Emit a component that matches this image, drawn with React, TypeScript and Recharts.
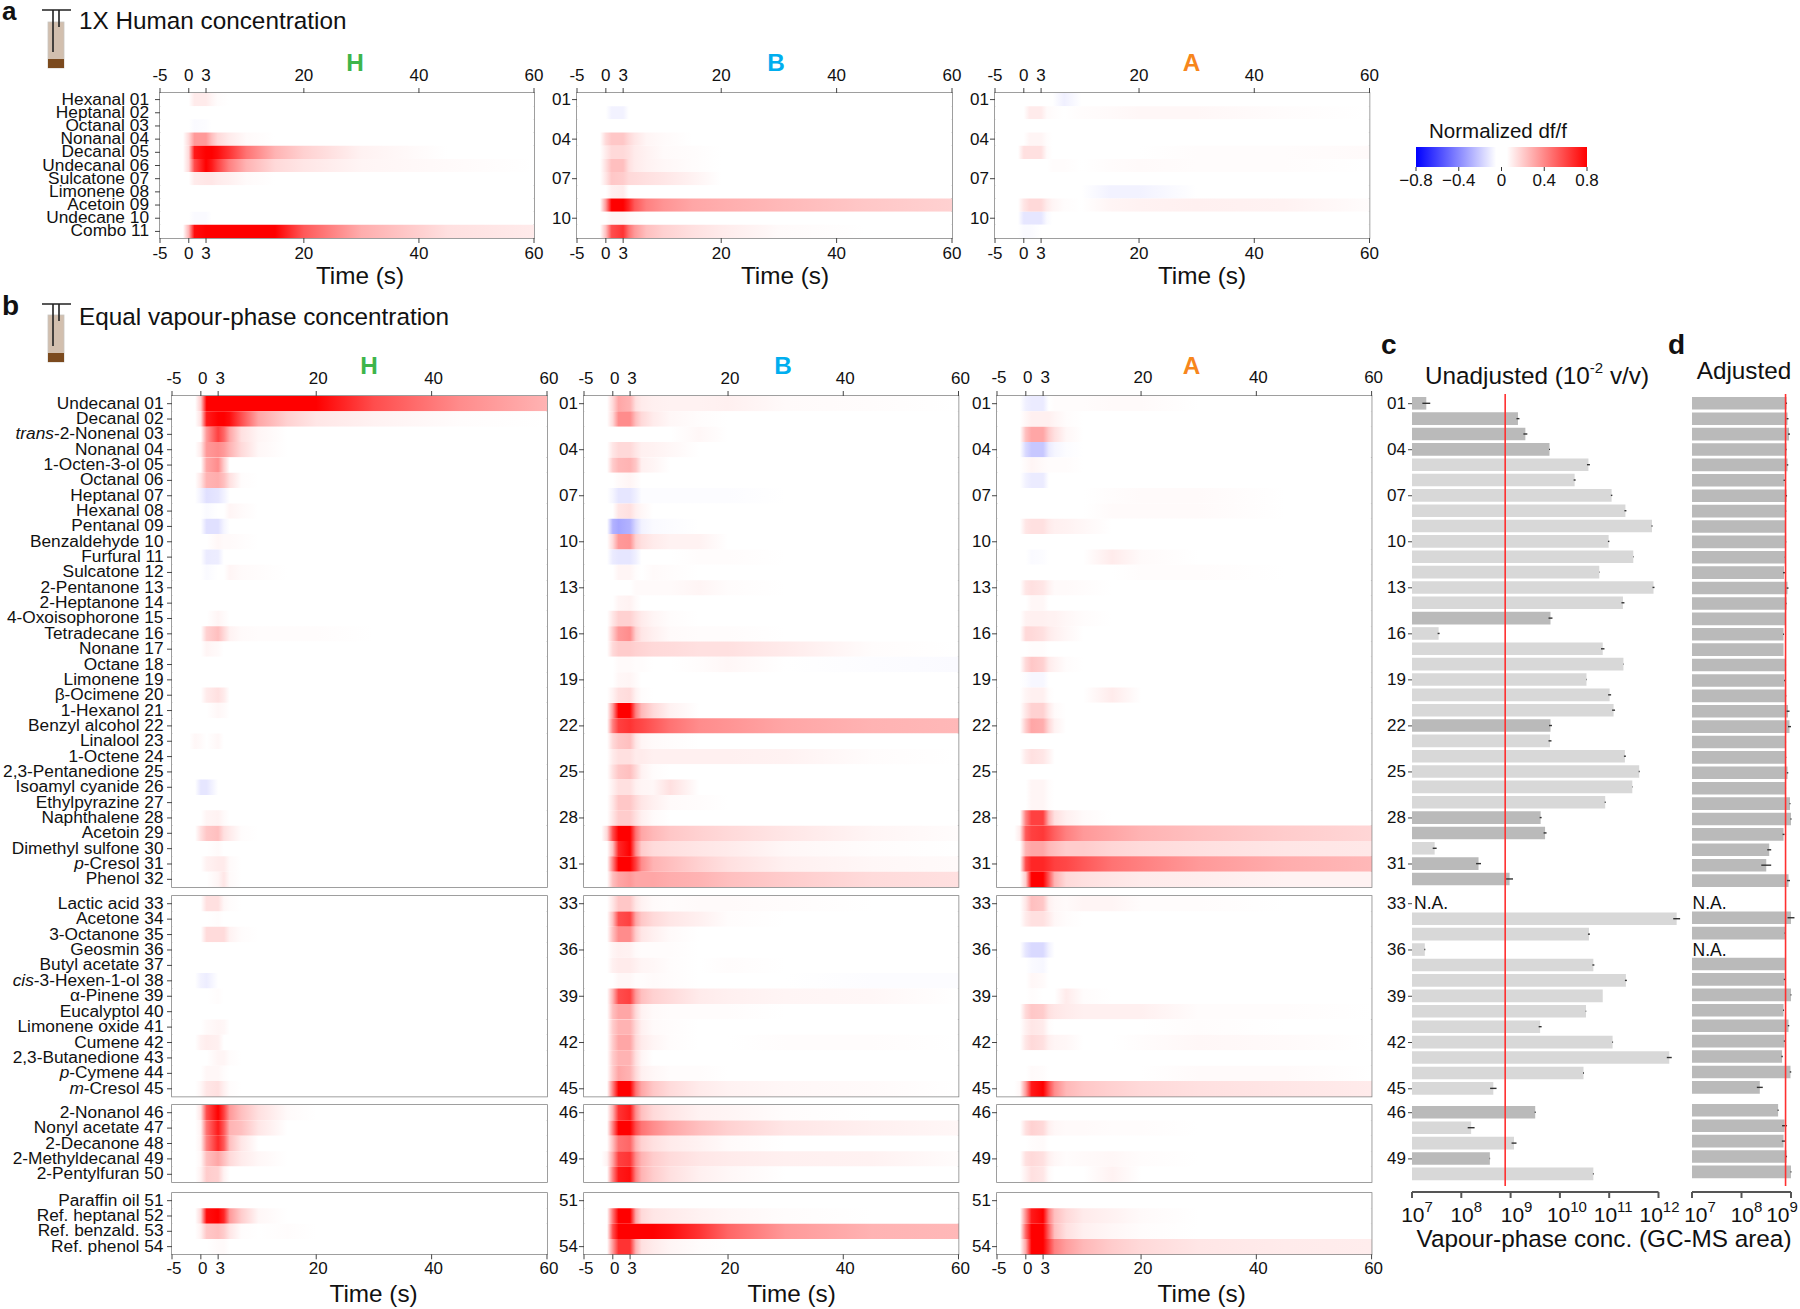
import { BarChart, Bar, XAxis, YAxis, Cell, ReferenceArea, ReferenceLine, ErrorBar } from "recharts";

const FONT = '"Liberation Sans", Arial, sans-serif';

// time points of the heatmap values (s); a row may stop early, the rest is 0
const timeKnots = [-1, 0, 1, 3, 4, 5, 7, 10, 15, 20, 30, 45, 60];
const timeTicks = [-5, 0, 3, 20, 40, 60];
const timeSpan = [-5, 60];

const aLabels = ["Hexanal 01", "Heptanal 02", "Octanal 03", "Nonanal 04", "Decanal 05", "Undecanal 06", "Sulcatone 07", "Limonene 08", "Acetoin 09", "Undecane 10", "Combo 11"];
const g1Labels = ["Undecanal 01", "Decanal 02", "trans-2-Nonenal 03", "Nonanal 04", "1-Octen-3-ol 05", "Octanal 06", "Heptanal 07", "Hexanal 08", "Pentanal 09", "Benzaldehyde 10", "Furfural 11", "Sulcatone 12", "2-Pentanone 13", "2-Heptanone 14", "4-Oxoisophorone 15", "Tetradecane 16", "Nonane 17", "Octane 18", "Limonene 19", "β-Ocimene 20", "1-Hexanol 21", "Benzyl alcohol 22", "Linalool 23", "1-Octene 24", "2,3-Pentanedione 25", "Isoamyl cyanide 26", "Ethylpyrazine 27", "Naphthalene 28", "Acetoin 29", "Dimethyl sulfone 30", "p-Cresol 31", "Phenol 32"];
const g2Labels = ["Lactic acid 33", "Acetone 34", "3-Octanone 35", "Geosmin 36", "Butyl acetate 37", "cis-3-Hexen-1-ol 38", "α-Pinene 39", "Eucalyptol 40", "Limonene oxide 41", "Cumene 42", "2,3-Butanedione 43", "p-Cymene 44", "m-Cresol 45"];
const g3Labels = ["2-Nonanol 46", "Nonyl acetate 47", "2-Decanone 48", "2-Methyldecanal 49", "2-Pentylfuran 50"];
const g4Labels = ["Paraffin oil 51", "Ref. heptanal 52", "Ref. benzald. 53", "Ref. phenol 54"];

// normalized df/f in percent of full scale (100 = 0.8)
const aH = [[0,0,8,8,4,1],[],[0,0,-2,-1],[0,15,40,40,25,15,8,2],[0,15,90,100,100,95,80,55,30,18,5],[0,15,70,100,90,75,50,30,15,10,4,2],[0,0,8,10,10,8,6,2],[],[],[0,0,-2,-2],[0,30,95,100,100,100,100,100,100,65,32,12,8]];
const aB = [[],[0,0,-5,-5],[],[0,15,22,22,15,10,4,2],[0,8,15,15,12,8,5,2,1],[0,12,25,25,12,8,5,3,1],[0,10,22,20,15,14,12,10,5],[0,0,6,8],[0,40,100,100,85,65,50,42,35,32,28,22,18],[0,0,4,4,2,1],[0,25,70,80,55,40,25,18,12,8,2]];
const aA = [[0,0,0,0,0,0,-6],[0,0,8,8,2,1,0,1,2,3,3,1],[],[0,0,4,4,1],[0,12,12,12,2,0,0,0,0,0,1,1,2],[0,0,0,0,0,1,1,0,1,2,1,1],[],[0,0,0,0,0,0,0,0,-5,-5],[0,10,15,15,8,4,1,0,4,5,6,5,1],[0,-10,-10,-10,-2],[0,-2,-2]];

const g1H = [[0,20,100,100,100,100,100,100,100,100,70,45,30],[0,12,90,100,100,95,70,35,18,10,5,1],[0,0,40,75,60,35,12,4],[0,8,40,45,40,30,15,3],[0,0,35,45,20],[0,10,30,32,25,12,1],[0,-5,-12,-10,-5],[0,0,-2,0,0,4,2],[0,0,-12,-12,-4],[0,0,0,3,2,2,1],[0,0,-8,-7],[0,0,-2,0,0,4,2,1],[],[],[0,0,0,4,2],[0,0,18,25,15,5,2,1,1,1],[0,0,4,2],[],[],[0,0,8,12,8],[0,0,0,3,2],[],[3,2,0,3],[],[],[0,-10,-10],[],[0,0,4,5,2],[0,12,22,25,12,8,1],[0,0,0,2],[0,0,5,8,8,2],[0,0,0,4,10,2]];
const g2H = [[0,0,12,12,3,1],[0,0,0,1],[0,0,14,14,14,5,1],[],[],[0,-5,-7],[0,0,0,1],[],[0,0,2,4,3],[0,5,7,6],[0,0,0,4,4,1],[0,0,3,3,1],[0,3,10,12,6,1]];
const g3H = [[0,10,70,100,75,40,25,12,2],[0,5,55,90,65,30,25,10],[0,5,50,85,65,25,10],[0,3,25,35,25,15,8,3],[0,5,20,18,5]];
const g4H = [[],[0,15,95,100,85,40,20,3],[0,5,22,25,20,10,1,0,1],[0,0,0,2,2]];

const g1B = [[0,15,35,30,12,8,6,5,5,6,2,1],[0,15,45,45,25,15,8,3,1],[0,0,0,0,0,0,0,0,3],[0,10,15,15,10,6,5,3],[0,20,28,30,22,6,4],[0,0,2,4,2],[0,-4,-10,-10,-6,-1,-1,-1,-1,-1],[0,0,10,12,6,3],[0,-30,-35,-30,-15,-5,-2,-1],[0,15,40,42,18,12,8,5,5],[0,-8,-10,-10,-6,0,0,0,1,1],[0,0,4,4,1,0,2,1],[0,0,0,0,2,2,2,2,4,1],[0,0,4,5,2],[0,10,18,18,12,8,4,1],[0,20,40,45,18,10,6,2,1,1],[0,15,20,20,18,17,15,14,12,12,8,1],[0,0,2,2,1,1,0,0,1,3,0,-1,-2],[0,0,3,4,2],[0,5,12,14,5,1],[0,40,100,100,50,28,15,5],[0,50,75,80,75,72,65,55,45,42,35,30,28],[0,15,22,25,10,4,2,1],[0,8,12,12,8,8,6,6,6,6,5,1],[0,12,22,25,15,5,1],[0,6,12,12,6,4,3,12],[0,10,22,22,15,10,6,2,1],[0,10,20,20,12,6,2],[15,70,100,100,55,35,28,22,18,15,10,4,1],[0,25,85,100,45,20,14,12,10,8,3,1],[0,50,100,100,75,45,30,25,18,12,6,3,2],[0,25,35,40,35,35,35,32,30,25,20,14,12]];
const g2B = [[0,10,22,22,10,5,2,1,2,2,1],[0,25,70,75,35,22,15,10,6,1],[0,25,45,45,20,10,6,2],[0,4,6,5,2,1,1,1],[0,6,8,8,6,4,3,1,0,1],[0,0,3,3,1,1,2,1,0,0,0,-1,-1],[0,30,70,75,40,25,18,14,8,6,4,3],[0,25,35,35,15,5,2,1,1,1],[0,20,30,30,15,6,2,1],[0,20,35,35,15,8,4,1,0,0,1,1],[0,20,30,30,12,4],[0,20,35,30,15,6,3,1,1],[0,50,100,100,55,35,22,14,8,5,3,2]];
const g3B = [[0,30,80,90,45,25,15,10,5,4,1],[0,50,100,100,70,55,45,35,25,18,10,6,3],[0,25,55,60,30,18,12,8,5,2],[5,35,75,80,45,30,20,14,10,8,6,5,1],[0,50,90,95,50,30,20,12,6,3]];
const g4B = [[],[0,55,100,100,35,15,10,8,5,3,1],[0,70,100,100,100,100,100,95,80,60,40,30,28],[0,40,80,80,30,12,8,4,1]];

const g1A = [[0,-6,-8,-8,0,1,1,1,2,2],[0,3,6,6,6,4,1],[0,25,35,35,20,12,3],[0,-15,-22,-22,-8,-4,-1],[0,2,4,2,1,1,1],[0,-5,-8,-8],[0,0,0,0,0,0,0,0,1,2,2],[0,0,0,0,0,0,0,0,2,2,2],[0,10,12,12,8,6,5,3],[],[0,0,-2,-1,0,0,0,0,8,2],[0,0,0,0,0,0,0,0,0,1,1],[0,10,12,10,5,2,2,1],[0,0,3,3],[0,5,6,6,5,5,3,1],[0,15,15,12,8,6,3],[0,0,1,1],[0,15,22,18,8,5,1],[0,-1,-3,-3],[0,4,6,6,1,0,0,0,8],[0,10,18,18,8,2],[0,20,35,32,15,5],[],[0,8,12,10,5],[],[0,0,4,4,1],[0,0,4,4,1],[0,50,75,75,30,12,6,2],[8,65,75,78,70,62,50,40,35,30,25,20,16],[0,30,35,35,28,25,20,20,16,14,12,10,9],[0,70,85,85,80,75,72,65,55,50,40,32,28],[0,20,100,100,65,30,15,12,10,8,7,5,5]];
const g2A = [[0,10,25,22,6,3,2,4,4,1,1],[0,8,12,12,8,3,1],[],[0,-10,-15,-15,-5],[0,0,-2,-3],[0,0,3,2],[0,0,1,0,0,0,8,1],[0,15,22,20,12,10,8,6,6,6,1,1],[0,6,10,8,1,0,0,0,0,0,1],[0,10,15,12,6,4,3,0,0,1,3,2],[],[0,0,2,1,0,0,0,0,0,0,2,2],[3,40,90,100,70,45,28,22,18,15,12,10,8]];
const g3A = [[],[0,12,18,15,6,3,2,2,1,1],[0,0,1,2],[0,12,15,12,6,3,1,2,3,1],[0,6,12,10,2,0,0,0,5]];
const g4A = [[],[0,45,90,100,50,25,15,8,5,2],[0,60,100,100,60,25,12,6,3,1],[0,35,100,100,75,50,38,28,20,15,10,8,7]];

// GC-MS area as log10, rows 01..50
const unadjusted = [7.29,9.15,9.3,9.79,10.58,10.3,11.05,11.33,11.87,10.99,11.49,10.8,11.9,11.28,9.81,7.54,10.87,11.29,10.54,11.01,11.09,9.81,9.8,11.32,11.61,11.47,10.92,9.61,9.7,7.46,8.35,8.98,null,12.37,10.59,7.26,10.68,11.34,10.87,10.53,9.6,11.07,12.22,10.48,8.65,9.5,8.2,9.07,8.58,10.68];
const unadjustedErr = [0.08,0.03,0.04,0.01,0.03,0.02,0.015,0.02,0.01,0.015,0.005,0.005,0.02,0.03,0.04,0.02,0.035,0.005,0.005,0.03,0.03,0.03,0.03,0.02,0.01,0.005,0.01,0.02,0.03,0.04,0.05,0.07,0,0.07,0.02,0.01,0.02,0.02,0,0.005,0.03,0.01,0.05,0.01,0.065,0.01,0.07,0.05,0.005,0.01];
const adjusted = [8.91,8.93,8.96,8.91,8.93,8.87,8.91,8.9,8.89,8.9,8.88,8.86,8.93,8.91,8.89,8.85,8.85,8.89,8.87,8.9,8.94,8.97,8.89,8.9,8.93,8.89,8.98,9,8.85,8.56,8.5,8.95,null,9,8.88,null,8.9,8.87,9,8.85,8.95,8.87,8.82,8.99,8.37,8.74,8.87,8.85,8.91,9];
const adjustedErr = [0.01,0.02,0.02,0.005,0.015,0.02,0.01,0.005,0.005,0.005,0.005,0.02,0.02,0.005,0.005,0.01,0,0.01,0.01,0.005,0.03,0.03,0.01,0.005,0.015,0.01,0.01,0.01,0.02,0.04,0.1,0.03,0,0.07,0.01,0,0,0.015,0.01,0.01,0.015,0.015,0.015,0.015,0.06,0.01,0.05,0.035,0.01,0.01];
const darkRows = [1, 2, 3, 4, 15, 22, 28, 29, 31, 32, 46, 49];
const redLineAt = 8.89;
const unadjustedTicks = [7, 8, 9, 10, 11, 12];
const adjustedTicks = [7, 8, 9];
const unadjustedTickShift = [5, 5, 6, 7, 4, 1];
const adjustedTickShift = [8, 5, -9];

const legendTicks = [-0.8, -0.4, 0, 0.4, 0.8];
const legendStops = [-0.8, -0.05, 0.05, 0.8];
const legendValues = [-100, 0, 0, 100];

const paint = (p: number) => {
  const c = Math.round(255 * (1 - Math.abs(p) / 100));
  return p >= 0 ? `rgb(255,${c},${c})` : `rgb(${c},${c},255)`;
};

const TOP = 30;
const BOT = 30;
const RIGHT = 25;

const RowTick = ({ x, y, payload, named, gap }: any) => {
  const value: string = payload.value;
  let body = named ? value : value.slice(-2);
  const m = named ? value.match(/^(trans|cis|p|m)-/) : null;
  return (
    <text x={x + gap} y={named ? y - 1 : y} textAnchor="end" dominantBaseline="central" fontSize={named ? 17.3 : 17} fill="#111" fontFamily={FONT}>
      {m ? <tspan fontStyle="italic">{m[1]}</tspan> : null}
      {m ? body.slice(m[1].length) : body}
    </text>
  );
};

const TimeTick = ({ x, y, payload, dx, dy }: any) => (
  <text x={x + dx} y={y + dy} textAnchor="middle" dominantBaseline="central" fontSize={17} fill="#111" fontFamily={FONT}>
    {payload.value}
  </text>
);

const Heatmap = ({ id, labels, rows, left, right, top, bottom, showTop, showBottom, named, gap, tickDx, bottomDy = 8 }: any) => {
  const yW = named ? 170 : 35;
  const boxW = right - left;
  const boxH = bottom - top;
  const pitch = boxH / labels.length;
  const data = labels.map((label: string) => ({ label, span: timeSpan }));
  return (
    <div style={{ position: "absolute", left: left - yW, top: top - TOP }}>
      <BarChart
        width={yW + boxW + RIGHT}
        height={TOP + boxH + BOT}
        data={data}
        layout="vertical"
        barCategoryGap={0}
        barGap={0}
        margin={{ top: 0, right: RIGHT, bottom: 0, left: 0 }}
      >
        <defs>
          {rows.map((row: number[], r: number) => (
            <linearGradient key={r} id={`${id}-${r}`} x1="0" x2="1" y1="0" y2="0">
              <stop offset={3 / 65} stopColor="#fff" />
              {timeKnots.map((t, k) => (
                <stop key={t} offset={(t + 5) / 65} stopColor={paint(row[k] ?? 0)} />
              ))}
            </linearGradient>
          ))}
        </defs>
        <XAxis
          xAxisId="t"
          orientation="top"
          type="number"
          domain={timeSpan}
          allowDataOverflow
          ticks={timeTicks}
          interval={0}
          height={TOP}
          axisLine={false}
          tickSize={5}
          tickLine={showTop ? { stroke: "#444" } : false}
          tick={showTop ? (p: any) => <TimeTick {...p} dx={tickDx} dy={-11} /> : false}
        />
        <XAxis
          xAxisId="b"
          orientation="bottom"
          type="number"
          domain={timeSpan}
          ticks={timeTicks}
          interval={0}
          height={BOT}
          axisLine={false}
          tickSize={5}
          tickLine={showBottom ? { stroke: "#444" } : false}
          tick={showBottom ? (p: any) => <TimeTick {...p} dx={tickDx} dy={bottomDy} /> : false}
        />
        <YAxis
          type="category"
          dataKey="label"
          width={yW}
          interval={named ? 0 : 2}
          axisLine={false}
          tickSize={5}
          tickLine={{ stroke: "#444" }}
          tick={(p: any) => <RowTick {...p} named={named} gap={gap} />}
        />
        <Bar xAxisId="b" dataKey="span" barSize={pitch - 0.01} isAnimationActive={false}>
          {rows.map((_: number[], r: number) => (
            <Cell key={r} fill={`url(#${id}-${r})`} />
          ))}
        </Bar>
        <ReferenceArea xAxisId="b" x1={-5} x2={60} fill="none" stroke="#7f7f7f" strokeWidth={1.5} />
      </BarChart>
    </div>
  );
};

const GcBars = ({ first, count, values, errors, left, top, bottom, domain, plotW, labels, shade }: any) => {
  const yW = 35;
  const pad = 6;
  const data = values.slice(first, first + count).map((v: number | null, i: number) => ({
    code: String(first + i + 1).padStart(2, "0"),
    area: v,
    err: errors[first + i],
  }));
  return (
    <div style={{ position: "absolute", left: left - yW, top: top - pad }}>
      <BarChart
        width={yW + plotW}
        height={bottom - top + 2 * pad}
        data={data}
        layout="vertical"
        barCategoryGap={0}
        margin={{ top: pad, right: 0, bottom: pad, left: labels ? 0 : yW }}
      >
        <XAxis type="number" domain={domain} hide />
        <YAxis
          type="category"
          dataKey="code"
          width={yW}
          hide={!labels}
          interval={2}
          axisLine={false}
          tickSize={4}
          tickLine={{ stroke: "#444" }}
          tick={(p: any) => <RowTick {...p} named={false} gap={0} />}
        />
        <Bar dataKey="area" barSize={12.6} isAnimationActive={false}>
          {data.map((d: any, i: number) => (
            <Cell key={d.code} fill={shade(first + i + 1)} />
          ))}
          <ErrorBar dataKey="err" direction="x" width={0} stroke="#333" strokeWidth={1.4} isAnimationActive={false} />
        </Bar>
      </BarChart>
    </div>
  );
};

const PowerTick = ({ x, y, payload, shift }: any) => (
  <text x={x + shift[payload.index]} y={y + 14} textAnchor="middle" dominantBaseline="central" fontSize={21} fill="#111" fontFamily={FONT}>
    10
    <tspan dy={-8} fontSize={15}>{payload.value}</tspan>
  </text>
);

const ScaleAxis = ({ left, width, domain, ticks, shift }: any) => (
  <div style={{ position: "absolute", left: left - 12, top: 1181.7 }}>
    <BarChart width={width + 42} height={60} data={[{ row: "" }]} layout="vertical" margin={{ top: 0, right: 30, bottom: 0, left: 12 }}>
      <XAxis
        type="number"
        domain={domain}
        allowDataOverflow
        ticks={ticks}
        interval={0}
        height={50}
        stroke="#555"
        strokeWidth={2}
        tickSize={6}
        tick={(p: any) => <PowerTick {...p} shift={shift} />}
      />
      <YAxis type="category" dataKey="row" hide />
    </BarChart>
  </div>
);

const RedLine = ({ left, width, domain }: any) => (
  <div style={{ position: "absolute", left, top: 394 }}>
    <BarChart width={width} height={792} data={[{ row: "" }]} layout="vertical" margin={{ top: 0, right: 0, bottom: 0, left: 0 }}>
      <XAxis type="number" domain={domain} allowDataOverflow hide />
      <YAxis type="category" dataKey="row" hide />
      <ReferenceLine x={redLineAt} stroke="#ff3030" strokeWidth={1.6} />
    </BarChart>
  </div>
);

const Legend = () => (
  <div style={{ position: "absolute", left: 1396, top: 147 }}>
    <BarChart
      width={212}
      height={50}
      data={[{ row: "", span: [-0.8, 0.8] }]}
      layout="vertical"
      barCategoryGap={0}
      margin={{ top: 0, right: 21, bottom: 0, left: 20 }}
    >
      <defs>
        <linearGradient id="legend" x1="0" x2="1" y1="0" y2="0">
          {legendStops.map((s, i) => (
            <stop key={s} offset={(s + 0.8) / 1.6} stopColor={paint(legendValues[i])} />
          ))}
        </linearGradient>
      </defs>
      <XAxis
        type="number"
        domain={[-0.8, 0.8]}
        ticks={legendTicks}
        interval={0}
        height={30}
        axisLine={false}
        tickSize={4}
        tickLine={{ stroke: "#333" }}
        tick={(p: any) => (
          <text x={p.x} y={p.y + 7} textAnchor="middle" dominantBaseline="central" fontSize={17} fill="#111" fontFamily={FONT}>
            {p.payload.value === 0 ? "0" : String(p.payload.value).replace("-", "−")}
          </text>
        )}
      />
      <YAxis type="category" dataKey="row" hide />
      <Bar dataKey="span" barSize={19.9} fill="url(#legend)" isAnimationActive={false} />
    </BarChart>
  </div>
);

const Label = ({ x, y, size = 24.3, weight = 400, color = "#111", anchor = "middle", children }: any) => (
  <text x={x} y={y} fontSize={size} fontWeight={weight} fill={color} textAnchor={anchor} dominantBaseline="central" fontFamily={FONT}>
    {children}
  </text>
);

const Vial = ({ top, bottom, brown, bar }: any) => (
  <g>
    <rect x={48} y={top} width={16} height={bottom - top} fill="#d2bfae" stroke="#c9c5c0" strokeWidth={0.8} />
    <rect x={48} y={brown} width={16} height={bottom - brown} fill="#7b4a1e" />
    <path d={`M42 ${bar}H71M53 ${bar}V${bar + 42}M59 ${bar}V${bar + 17}`} stroke="#222" strokeWidth={1.6} fill="none" />
  </g>
);

const HUMAN = "#3db54a";
const BEE = "#00aeef";
const AEDES = "#f7861c";

const aBoxes = [
  { id: "aH", rows: aH, left: 159.5, right: 533.5, named: true, gap: -4, tickDx: 0 },
  { id: "aB", rows: aB, left: 576.5, right: 951.5, named: false, gap: 1, tickDx: 0 },
  { id: "aA", rows: aA, left: 995, right: 1369.5, named: false, gap: 1, tickDx: 0 },
];
const bColumns = [
  { id: "H", left: 171.5, right: 546.5, named: true, gap: -1.5, rows: [g1H, g2H, g3H, g4H] },
  { id: "B", left: 584, right: 958.5, named: false, gap: 1, rows: [g1B, g2B, g3B, g4B] },
  { id: "A", left: 996.7, right: 1371.3, named: false, gap: 1, rows: [g1A, g2A, g3A, g4A] },
];
const bGroups = [
  { labels: g1Labels, top: 396, bottom: 887 },
  { labels: g2Labels, top: 896, bottom: 1096.5 },
  { labels: g3Labels, top: 1104.7, bottom: 1181.7 },
  { labels: g4Labels, top: 1192.7, bottom: 1254 },
];
const cGroups = [
  { first: 0, count: 32, top: 396, bottom: 887 },
  { first: 32, count: 13, top: 896, bottom: 1096.5 },
  { first: 45, count: 5, top: 1104.7, bottom: 1181.7 },
];
const dGroups = [
  { first: 0, count: 32, top: 396.3, bottom: 889 },
  { first: 32, count: 13, top: 894.5, bottom: 1095 },
  { first: 45, count: 5, top: 1102.5, bottom: 1179.5 },
];

export default function App() {
  const cShade = (row: number) => (darkRows.includes(row) ? "#bababa" : "#d8d8d8");
  return (
    <div style={{ position: "absolute", left: 0, top: 0, width: 1800, height: 1309, background: "#fff", overflow: "hidden" }}>
      {aBoxes.map((b) => (
        <Heatmap key={b.id} {...b} labels={aLabels} top={93} bottom={238} showTop showBottom />
      ))}
      {bColumns.map((col) =>
        bGroups.map((g, i) => (
          <Heatmap
            key={col.id + i}
            id={`b${col.id}${i}`}
            labels={g.labels}
            rows={col.rows[i]}
            left={col.left}
            right={col.right}
            top={g.top}
            bottom={g.bottom}
            named={col.named}
            gap={col.gap}
            tickDx={2}
            bottomDy={7}
            showTop={i === 0}
            showBottom={i === 3}
          />
        ))
      )}
      {cGroups.map((g) => (
        <GcBars key={g.first} {...g} values={unadjusted} errors={unadjustedErr} left={1412.3} domain={[7, 12.6]} plotW={276} labels shade={cShade} />
      ))}
      {dGroups.map((g) => (
        <GcBars key={g.first} {...g} values={adjusted} errors={adjustedErr} left={1691.7} domain={[7, 9.2]} plotW={108.9} labels={false} shade={() => "#bababa"} />
      ))}
      <RedLine left={1412.3} width={246.5} domain={[7, 12]} />
      <RedLine left={1691.7} width={99} domain={[7, 9]} />
      <ScaleAxis left={1412.3} width={246.5} domain={[7, 12]} ticks={unadjustedTicks} shift={unadjustedTickShift} />
      <ScaleAxis left={1691.7} width={99} domain={[7, 9]} ticks={adjustedTicks} shift={adjustedTickShift} />
      <Legend />
      <svg width={1800} height={1309} style={{ position: "absolute", left: 0, top: 0, pointerEvents: "none" }}>
        <Vial top={22} bottom={68} brown={59} bar={10} />
        <Vial top={315} bottom={362} brown={353} bar={304} />
        <Label x={2} y={11} size={26} weight={700} anchor="start">a</Label>
        <Label x={2} y={305} size={28} weight={700} anchor="start">b</Label>
        <Label x={1381} y={344} size={28} weight={700} anchor="start">c</Label>
        <Label x={1668} y={344} size={28} weight={700} anchor="start">d</Label>
        <Label x={79} y={20} anchor="start">1X Human concentration</Label>
        <Label x={79} y={316} anchor="start">Equal vapour-phase concentration</Label>
        <Label x={355} y={62} weight={700} color={HUMAN}>H</Label>
        <Label x={776} y={62} weight={700} color={BEE}>B</Label>
        <Label x={1191.5} y={62} weight={700} color={AEDES}>A</Label>
        <Label x={369} y={365} weight={700} color={HUMAN}>H</Label>
        <Label x={783} y={365} weight={700} color={BEE}>B</Label>
        <Label x={1191.5} y={365} weight={700} color={AEDES}>A</Label>
        <Label x={360} y={275}>Time (s)</Label>
        <Label x={785} y={275}>Time (s)</Label>
        <Label x={1202} y={275}>Time (s)</Label>
        <Label x={373.6} y={1293}>Time (s)</Label>
        <Label x={791.7} y={1293}>Time (s)</Label>
        <Label x={1201.7} y={1293}>Time (s)</Label>
        <Label x={1498} y={130} size={20.5}>Normalized df/f</Label>
        <Label x={1537} y={375}>
          Unadjusted (10<tspan dy={-8} fontSize={15}>-2</tspan><tspan dy={8}> v/v)</tspan>
        </Label>
        <Label x={1744} y={370}>Adjusted</Label>
        <Label x={1604} y={1238}>Vapour-phase conc. (GC-MS area)</Label>
        <Label x={1414} y={903} size={17.5} anchor="start">N.A.</Label>
        <Label x={1692.5} y={903} size={17.5} anchor="start">N.A.</Label>
        <Label x={1692.5} y={950} size={17.5} anchor="start">N.A.</Label>
      </svg>
    </div>
  );
}
